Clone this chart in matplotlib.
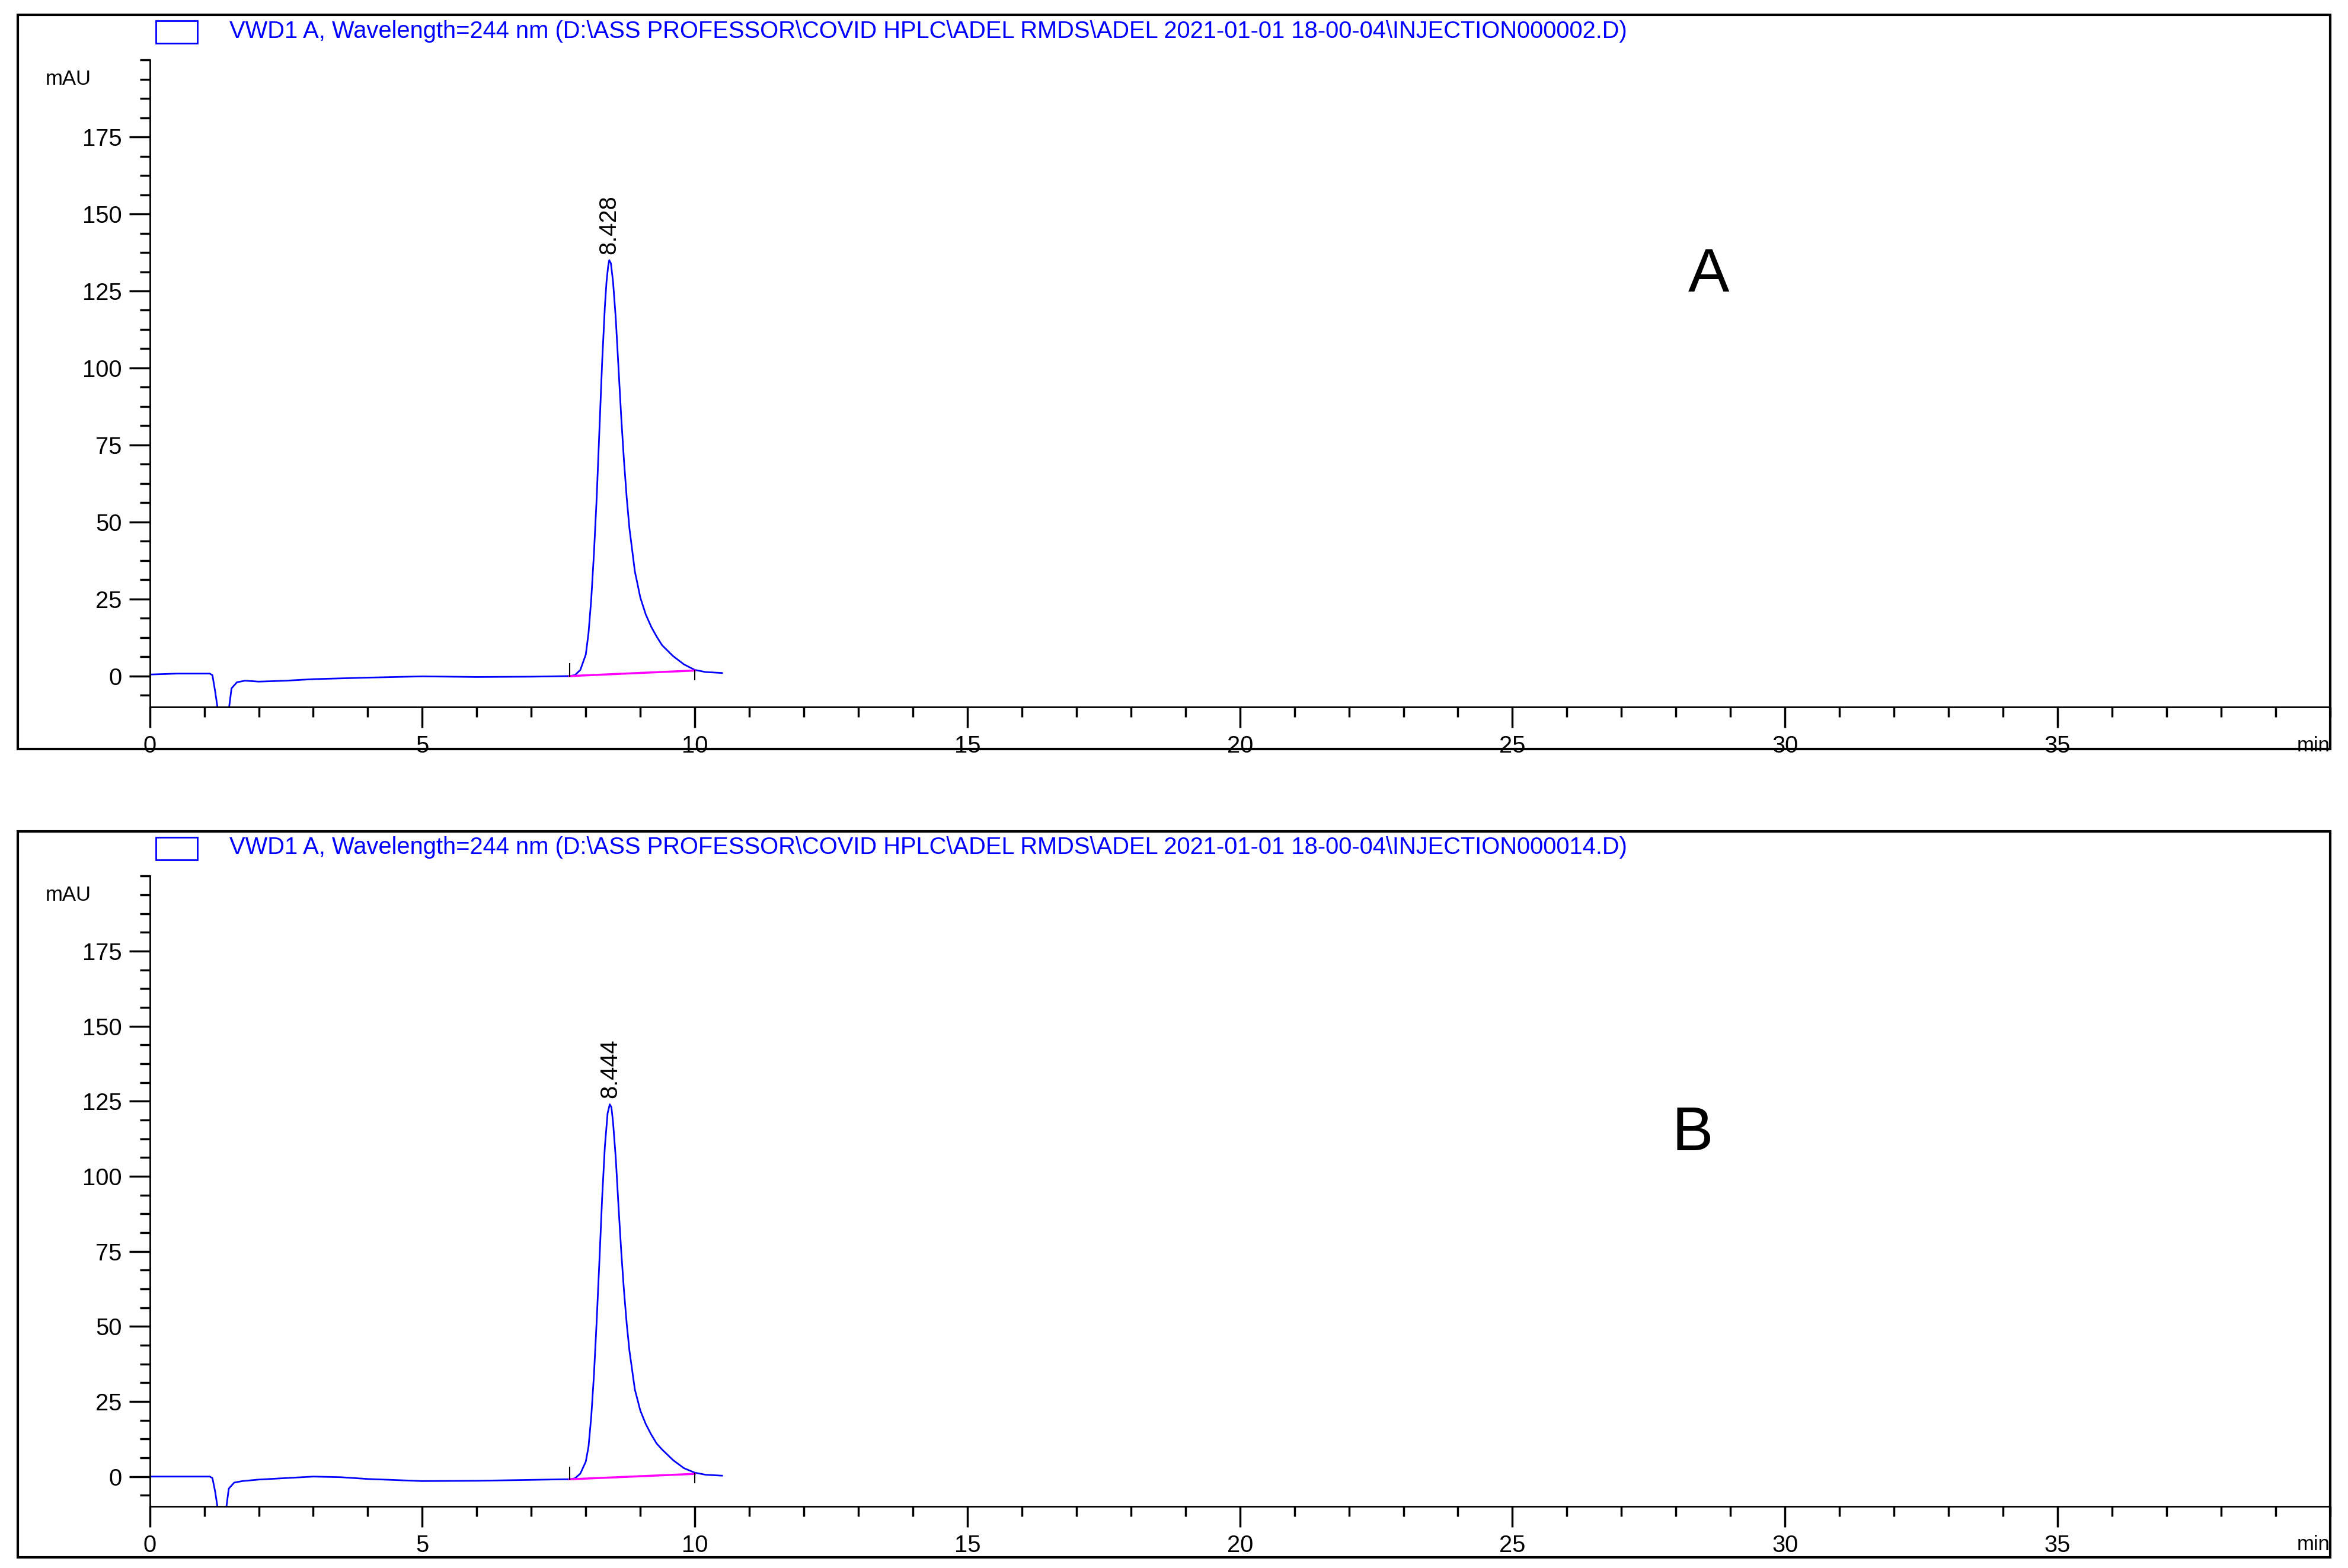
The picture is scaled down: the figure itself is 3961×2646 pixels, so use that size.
import matplotlib
matplotlib.use("Agg")
import matplotlib.pyplot as plt
from matplotlib.patches import Rectangle
from matplotlib.ticker import MultipleLocator
from matplotlib import font_manager

names = {f.name for f in font_manager.fontManager.ttflist}
narrow = "Liberation Sans Narrow" if "Liberation Sans Narrow" in names else "Liberation Sans"
plt.rcParams['font.family'] = ['Liberation Sans', 'DejaVu Sans']

titles = [r"VWD1 A, Wavelength=244 nm (D:\ASS PROFESSOR\COVID HPLC\ADEL RMDS\ADEL 2021-01-01 18-00-04\INJECTION000002.D)",
          r"VWD1 A, Wavelength=244 nm (D:\ASS PROFESSOR\COVID HPLC\ADEL RMDS\ADEL 2021-01-01 18-00-04\INJECTION000014.D)"]
panel_letters = ["A", "B"]
peak_rt = ["8.428", "8.444"]

tA = [0, 0.5, 1.1, 1.15, 1.2, 1.25, 1.45, 1.5, 1.6, 1.75, 2.0, 2.5, 3.0, 4.0, 5.0, 6.0, 7.0, 7.7, 7.8, 7.9, 8.0, 8.05, 8.1, 8.15, 8.2, 8.25, 8.3, 8.35, 8.38, 8.41, 8.43, 8.46, 8.5, 8.55, 8.6, 8.65, 8.7, 8.75, 8.8, 8.9, 9.0, 9.1, 9.2, 9.3, 9.4, 9.6, 9.8, 10.0, 10.2, 10.5]
yA = [0.5, 0.8, 0.8, 0.3, -5, -11, -11, -4, -2, -1.5, -1.8, -1.5, -1.0, -0.5, -0.1, -0.3, -0.2, 0.0, 0.3, 2, 7, 14, 25, 40, 58, 80, 102, 120, 128, 133, 135, 134, 128, 116, 100, 84, 70, 58, 48, 34, 25.5, 20, 16, 12.8, 10, 6.5, 3.8, 2.0, 1.3, 1.0]
tB = [0, 0.5, 1.1, 1.15, 1.2, 1.25, 1.4, 1.45, 1.55, 1.7, 2.0, 2.5, 3.0, 3.5, 4.0, 5.0, 6.0, 7.0, 7.6, 7.7, 7.8, 7.9, 8.0, 8.05, 8.1, 8.15, 8.2, 8.25, 8.3, 8.35, 8.4, 8.44, 8.47, 8.5, 8.55, 8.6, 8.65, 8.7, 8.75, 8.8, 8.9, 9.0, 9.1, 9.2, 9.3, 9.4, 9.6, 9.8, 10.0, 10.2, 10.5]
yB = [0.0, 0.0, 0.0, -0.5, -5, -11, -11, -4, -2, -1.5, -1.0, -0.5, 0.0, -0.2, -0.8, -1.5, -1.4, -1.1, -0.9, -0.9, -0.6, 1, 5, 10, 20, 34, 52, 72, 93, 110, 121, 124, 123, 118, 106, 90, 75, 62, 51, 42, 29, 22, 17.5, 14, 11, 9, 5.5, 2.8, 1.3, 0.6, 0.3]
base_t = [[7.7, 10.0], [7.7, 10.0]]
base_y = [[0.0, 1.8], [-0.9, 0.9]]
letter_pos = [(28.6, 130), (28.3, 114)]

fig = plt.figure(figsize=(15.844, 10.584), dpi=250)
W, H = 1568, 1047
frames = [(12, 10, 1556, 500), (12, 555, 1556, 1040)]
axes_px = [(100, 40, 1556, 472), (100, 585, 1556, 1006)]
data = [(tA, yA), (tB, yB)]

for i in range(2):
    fx0, fy0, fx1, fy1 = frames[i]
    fig.patches.append(Rectangle((fx0 / W, 1 - fy1 / H), (fx1 - fx0) / W, (fy1 - fy0) / H,
                                 transform=fig.transFigure, fill=False, lw=1.2, ec='black'))
    ax0, ay0, ax1, ay1 = axes_px[i]
    ax = fig.add_axes([ax0 / W, 1 - ay1 / H, (ax1 - ax0) / W, (ay1 - ay0) / H])
    t, y = data[i]
    ax.plot(t, y, color='#0000ff', lw=0.8, clip_on=True)
    ax.plot(base_t[i], base_y[i], color='#ff00ff', lw=1.0)
    ax.plot([base_t[i][0]] * 2, [base_y[i][0], base_y[i][0] + 4], color='black', lw=0.6)
    ax.plot([base_t[i][1]] * 2, [base_y[i][1], base_y[i][1] - 3], color='black', lw=0.6)
    pk = max(y)
    ax.text(float(peak_rt[i]), pk + 2, peak_rt[i], rotation=90, ha='center', va='bottom', fontsize=11.5)
    ax.text(*letter_pos[i], panel_letters[i], fontsize=30, ha='center', va='center')
    ax.set_xlim(0, 40)
    ax.set_ylim(-10, 200)
    for s in ['top', 'right']:
        ax.spines[s].set_visible(False)
    ax.spines['left'].set_bounds(-10, 200)
    ax.set_xticks(list(range(0, 40, 5)))
    ax.xaxis.set_minor_locator(MultipleLocator(1))
    ax.set_yticks([0, 25, 50, 75, 100, 125, 150, 175])
    ax.yaxis.set_minor_locator(MultipleLocator(6.25))
    ax.tick_params(axis='both', which='major', direction='out', length=10, width=1, labelsize=11.5)
    ax.tick_params(axis='both', which='minor', direction='out', length=5, width=1)
    ax.text(1.0, -0.045, "min", transform=ax.transAxes, ha='right', va='top', fontsize=10)
    ax.text(-0.027, 0.97, "mAU", transform=ax.transAxes, ha='right', va='center', fontsize=10)
    fig.patches.append(Rectangle((104 / W, 1 - (fy0 + 19) / H), 28 / W, 15 / H,
                                 transform=fig.transFigure, fill=False, lw=0.8, ec='#0000ff'))
    fig.text(153 / W, 1 - (fy0 + 11) / H, titles[i], color='#0000ff', fontsize=11.5,
             family=[narrow, 'DejaVu Sans'], ha='left', va='center')

fig.savefig("out.png", dpi=250)
